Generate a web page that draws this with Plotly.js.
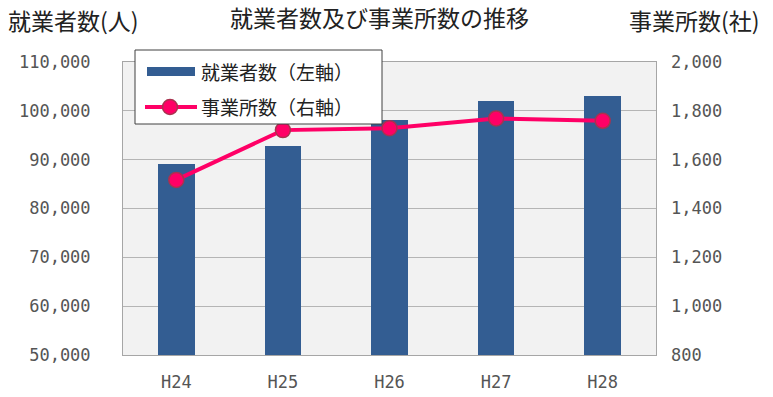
<!DOCTYPE html>
<html>
<head>
<meta charset="utf-8">
<script src="https://cdn.plot.ly/plotly-3.0.1.min.js"></script>
<style>html,body{margin:0;padding:0;background:#fff;}#chart{width:773px;height:397px;}</style>
</head>
<body>
<div id="chart"></div>
<script>
// ---- data ----
const categories = ["H24", "H25", "H26", "H27", "H28"];
const employees = [89100, 92900, 98100, 102000, 103000];      // 就業者数(人) left axis
const establishments = [1517, 1721, 1729, 1769, 1759];        // 事業所数(社) right axis
const seriesNames = ["就業者数（左軸）", "事業所数（右軸）"];
const chartTitle = "就業者数及び事業所数の推移";
const leftAxisTitle = "就業者数(人)";
const rightAxisTitle = "事業所数(社)";

// ---- geometry helpers (pixel -> paper) ----
const W = 773, H = 397;
const M = {l: 123, r: 117, t: 62, b: 42};
const PW = W - M.l - M.r, PH = H - M.t - M.b;
const px = x => (x - M.l) / PW;
const py = y => (H - M.b - y) / PH;

const JP = '"Noto Sans CJK JP", "Noto Sans", sans-serif';
const NUM = '"DejaVu Sans Mono", monospace';
const BAR_COLOR = '#335d92';
const LINE_COLOR = '#ff0066';
const TICK_COLOR = '#555555';

const traces = [
  {
    type: 'bar', x: categories, y: employees, name: seriesNames[0],
    marker: {color: BAR_COLOR}, width: 0.345, yaxis: 'y', showlegend: false,
    hoverinfo: 'x+y'
  },
  {
    type: 'scatter', mode: 'lines+markers', x: categories, y: establishments, name: seriesNames[1],
    line: {color: LINE_COLOR, width: 4},
    marker: {size: 15, color: LINE_COLOR, line: {color: '#a8334f', width: 1.5}},
    yaxis: 'y2', showlegend: false
  }
];

const layout = {
  width: W, height: H,
  margin: M,
  paper_bgcolor: '#ffffff',
  plot_bgcolor: '#f2f2f2',
  showlegend: false,
  bargap: 0,
  xaxis: {
    type: 'category', range: [-0.5, 4.5], showgrid: false,
    showline: true, linecolor: '#a6a6a6', linewidth: 1, mirror: true,
    ticks: '', ticklabelstandoff: 12,
    tickfont: {family: NUM, size: 17, color: TICK_COLOR}
  },
  yaxis: {
    range: [50000, 110000], dtick: 10000, tickformat: ',d',
    showgrid: true, gridcolor: '#b5b5b5', gridwidth: 1,
    showline: true, linecolor: '#a6a6a6', linewidth: 1, mirror: true,
    zeroline: false, ticks: '', ticklabelstandoff: 28,
    tickfont: {family: NUM, size: 17, color: TICK_COLOR}
  },
  yaxis2: {
    overlaying: 'y', side: 'right',
    range: [800, 2000], dtick: 200, tickformat: ',d',
    showgrid: false, zeroline: false, showline: false,
    ticks: '', ticklabelstandoff: 14,
    tickfont: {family: NUM, size: 17, color: TICK_COLOR}
  },
  title: {
    text: chartTitle, font: {family: JP, size: 23, color: '#222'},
    x: 372 / W, xanchor: 'center', xref: 'paper', y: 1 - 19 / H, yanchor: 'middle', yref: 'container'
  },
  annotations: [
    {text: leftAxisTitle, xref: 'paper', yref: 'paper', x: px(6), y: py(20), xanchor: 'left', yanchor: 'middle',
     showarrow: false, font: {family: JP, size: 23, color: '#222'}},
    {text: rightAxisTitle, xref: 'paper', yref: 'paper', x: px(627), y: py(20), xanchor: 'left', yanchor: 'middle',
     showarrow: false, font: {family: JP, size: 23, color: '#222'}},
    {text: seriesNames[0], xref: 'paper', yref: 'paper', x: px(199), y: py(72), xanchor: 'left', yanchor: 'middle',
     showarrow: false, font: {family: JP, size: 19, color: '#222'}},
    {text: seriesNames[1], xref: 'paper', yref: 'paper', x: px(199), y: py(107), xanchor: 'left', yanchor: 'middle',
     showarrow: false, font: {family: JP, size: 19, color: '#222'}}
  ],
  shapes: [
    // legend box
    {type: 'rect', xref: 'paper', yref: 'paper', x0: px(135), x1: px(382), y0: py(50), y1: py(124),
     fillcolor: '#ffffff', line: {color: '#404040', width: 1}, layer: 'above'},
    // bar symbol
    {type: 'rect', xref: 'paper', yref: 'paper', x0: px(147), x1: px(195), y0: py(67), y1: py(76),
     fillcolor: BAR_COLOR, line: {width: 0}, layer: 'above'},
    // line symbol
    {type: 'line', xref: 'paper', yref: 'paper', x0: px(145), x1: px(197), y0: py(107), y1: py(107),
     line: {color: LINE_COLOR, width: 4}, layer: 'above'},
    {type: 'circle', xref: 'paper', yref: 'paper', xsizemode: 'pixel', ysizemode: 'pixel',
     xanchor: px(170), yanchor: py(107), x0: -7.5, x1: 7.5, y0: -7.5, y1: 7.5,
     fillcolor: LINE_COLOR, line: {color: '#a8334f', width: 1.5}, layer: 'above'}
  ]
};

Plotly.newPlot('chart', traces, layout, {displayModeBar: false, staticPlot: true});
</script>
</body>
</html>
